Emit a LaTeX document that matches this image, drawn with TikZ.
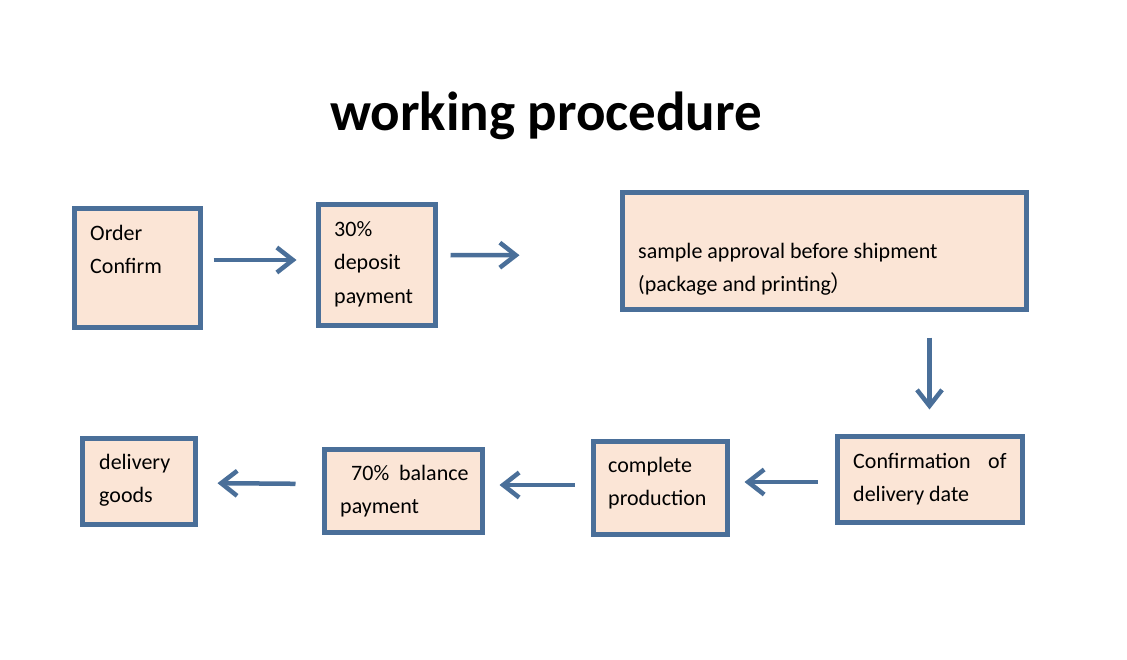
\documentclass[tikz,border=0pt]{standalone}
\usepackage{fontspec}
\setmainfont{Carlito}
\newfontfamily\cjk{Noto Sans CJK SC}
\usepackage{xcolor}
\usepackage{tikz}
\usetikzlibrary{arrows.meta}
\usetikzlibrary{positioning}
\definecolor{frameblue}{HTML}{4A6F99}
\definecolor{boxfill}{HTML}{FBE5D6}
\tikzstyle{stepbox} = [rectangle, draw=frameblue, fill=boxfill, line width=5pt]
\tikzstyle{steptext} = [inner sep=0pt, anchor=north west, align=left,
    font=\fontsize{22}{33.5}\selectfont]
\tikzstyle{flow} = [draw=frameblue, line width=4.5pt,
    -{Straight Barb[length=16pt, width=25pt]}]

\begin{document}
\begin{tikzpicture}[x=1pt, y=-1pt]
  \useasboundingbox (0,0) rectangle (1127,660);
  % Title
  \node [anchor=base, font=\fontsize{55}{60}\selectfont\bfseries] (title) at (546,131) {working procedure};
  % Place nodes
  \node [stepbox, minimum width=126, minimum height=118] (order) at (137,268) {};
  \node [stepbox, minimum width=117, minimum height=120] (deposit) at (376.5,265) {};
  \node [stepbox, minimum width=404, minimum height=117] (sample) at (824,251.5) {};
  \node [stepbox, minimum width=185, minimum height=86] (confirm) at (929.5,479) {};
  \node [stepbox, minimum width=134, minimum height=93] (complete) at (660,487.5) {};
  \node [stepbox, minimum width=158, minimum height=83] (balance) at (403,490.5) {};
  \node [stepbox, minimum width=113, minimum height=86] (delivery) at (138.5,481) {};
  % Texts
  \node [steptext] (ordertxt) at (90,225) {Order\\Confirm};
  \node [steptext] (deposittxt) at (334,221) {30\%\\deposit\\payment};
  \node [steptext] (sampletxt) at (638,243) {sample approval before shipment\\(package and printing{\cjk ）}};
  \node [steptext] (confirmtxt) at (853,453) {Confirmation\hspace{0.8em}of\\delivery date};
  \node [steptext] (completetxt) at (608,457) {complete\\production};
  \node [steptext] (balancetxt) at (340,465) {\hspace*{11pt}70\%\hspace{0.45em}balance\\payment};
  \node [steptext] (deliverytxt) at (99,454) {delivery\\goods};
  % Draw edges
  \path [flow, shorten <=11pt, shorten >=19pt] ([yshift=8pt]order.east) -- ([yshift=5pt]deposit.west);
  \path [flow, shorten <=13pt, shorten >=100pt] ([yshift=10pt]deposit.east) -- ([yshift=-4pt]sample.west);
  \path [flow, shorten <=25pt, shorten >=24pt] (sample.south -| confirm.north) -- (confirm.north);
  \path [flow, shorten <=17pt, shorten >=15pt] ([yshift=-3pt]confirm.west) -- ([yshift=5.5pt]complete.east);
  \path [flow, shorten <=16pt, shorten >=15pt] ([yshift=2.5pt]complete.west) -- ([yshift=5.5pt]balance.east);
  \path [flow, shorten <=26pt, shorten >=20pt] ([yshift=6.5pt]balance.west) -- ([yshift=-2pt]delivery.east);
\end{tikzpicture}
\end{document}
